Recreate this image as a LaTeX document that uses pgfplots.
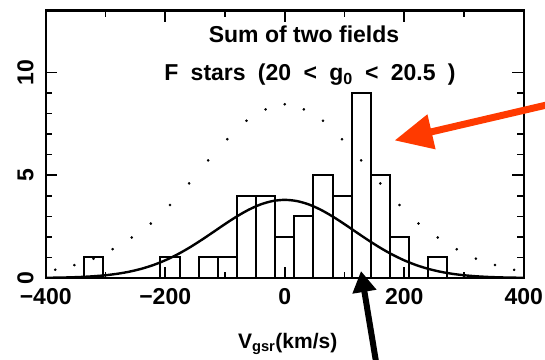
\documentclass[border=0pt]{standalone}
\usepackage{fontspec}
\setmainfont{Liberation Sans}
\usepackage{pgfplots}
\pgfplotsset{compat=1.18}
\usetikzlibrary{arrows.meta}
\definecolor{arrred}{RGB}{255,58,0}
\begin{document}
\begin{tikzpicture}
\useasboundingbox (-45.7pt,-81pt) rectangle (499.3pt,278pt);
\begin{axis}[
  at={(0pt,0pt)}, anchor=south west,
  scale only axis, width=478pt, height=267.3pt,
  xmin=-400, xmax=400, ymin=0, ymax=13,
  clip=false,
  axis line style={line width=2.4pt},
  tick style={line width=1.6pt, black},
  major tick length=11.5pt, minor tick length=6.5pt,
  tick pos=both, xticklabel pos=lower, yticklabel pos=left,
  xtick={-400,-200,0,200,400},
  xticklabels={{−400},{−200},0,200,400},
  minor x tick num=1,
  ytick={0,5,10}, yticklabels={0,5,10},
  minor y tick num=4,
  xticklabel style={font=\bfseries\fontsize{23}{23}\selectfont, inner sep=0pt, anchor=north},
  xticklabel shift=10pt,
  yticklabel style={font=\bfseries\fontsize{23}{23}\selectfont, inner sep=0pt, rotate=90, anchor=south},
  yticklabel shift=12pt,
  xlabel={V\textsubscript{gsr}(km/s)},
  xlabel style={font=\bfseries\fontsize{21}{21}\selectfont, at={(axis description cs:0.5,0)}, anchor=base, yshift=-70pt, xshift=3pt},
]
% histogram (bin width 32 km/s)
\addplot[ybar interval, draw=black, fill=none, line width=2pt] coordinates {
(-336,1) (-304,0) (-272,0) (-240,0) (-208,1) (-176,0) (-144,1) (-112,1)
(-80,4) (-48,4) (-16,2) (16,3) (48,5) (80,4) (112,9) (144,5) (176,2)
(208,0) (240,1) (272,0)
};
% dotted curve
\addplot[only marks, mark=*, mark size=1.1pt, black] coordinates {
(-384,0.40) (-352,0.63) (-320,0.94) (-288,1.40) (-256,1.97) (-224,2.65)
(-192,3.55) (-160,4.60) (-128,5.72) (-96,6.75) (-64,7.65) (-32,8.20) (0,8.45)
(32,8.20) (64,7.65) (96,6.75) (128,5.72) (160,4.60) (192,3.55) (224,2.65)
(256,1.97) (288,1.40) (320,0.94) (352,0.63) (384,0.40)
};
% solid curve
\addplot[smooth, line width=2.4pt, black] coordinates {
(-400,0.010) (-380,0.018) (-360,0.031) (-340,0.052) (-320,0.085) (-300,0.134)
(-280,0.206) (-260,0.308) (-240,0.447) (-220,0.629) (-200,0.860) (-180,1.140)
(-160,1.468) (-140,1.835) (-120,2.225) (-100,2.621) (-80,2.996) (-60,3.324)
(-40,3.581) (-20,3.744) (0,3.800) (20,3.744) (40,3.581) (60,3.324) (80,2.996)
(100,2.621) (120,2.225) (140,1.835) (160,1.468) (180,1.140) (200,0.860)
(220,0.629) (240,0.447) (260,0.308) (280,0.206) (300,0.134) (320,0.085)
(340,0.052) (360,0.031) (380,0.018) (400,0.010)
};
\node[font=\bfseries\fontsize{23}{23}\selectfont, anchor=base] at (axis cs:32.3,11.43) {Sum of two fields};
\node[font=\bfseries\fontsize{23}{23}\selectfont, anchor=base] at (axis cs:42.3,9.60) {\spaceskip=12.3pt\relax F stars (20 < g\textsubscript{0} < 20.5 )};
\draw[arrred, line width=7pt, -{Triangle[length=38pt, width=34pt]}] (axis cs:460,8.56) -- (axis cs:183.8,6.69);
\draw[black, line width=6pt, -{Triangle[length=21pt, width=23pt]}] (axis cs:153,-4.1) -- (axis cs:127.7,0.34);
\end{axis}
\end{tikzpicture}
\end{document}
